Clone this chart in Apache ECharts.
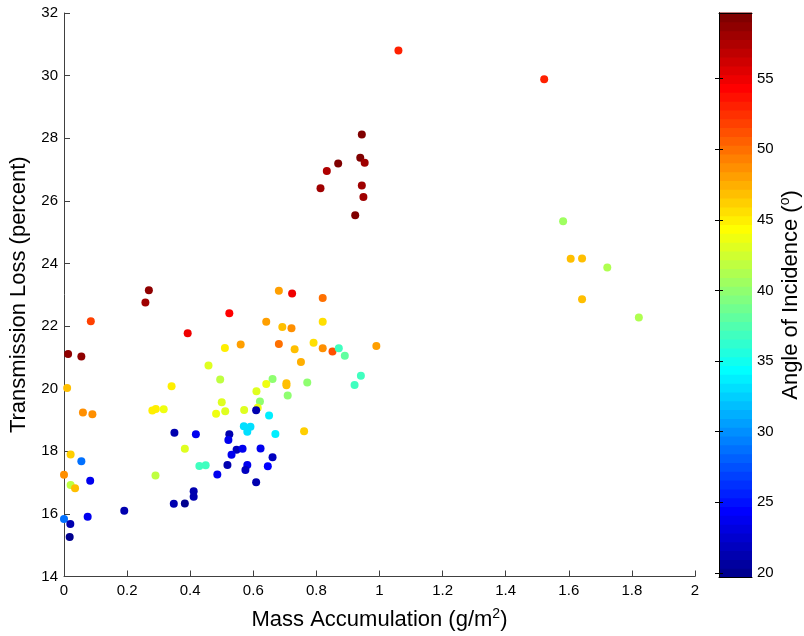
<!DOCTYPE html>
<html>
<head>
<meta charset="utf-8">
<script src="https://cdn.jsdelivr.net/npm/echarts@6/dist/echarts.min.js"></script>
<style>
  html, body { margin: 0; padding: 0; background: #fff; }
  #chart { width: 804px; height: 636px; }
</style>
</head>
<body>
<div id="chart"></div>
<script>
// Mass accumulation on the surface (g/m^2)
const massAccum = [
  0.258, 0.269, 0.085, 0.392, 0.013, 0.055, 0.458, 0.010, 0.341, 0.280,
  0.291, 0.316, 0.060, 0.090, 0.350, 0.418, 0.383, 0.021, 0.055, 0.429,
  0.449, 0.000, 0.021, 0.035, 0.083, 0.290, 0.411, 0.411, 0.348, 0.383,
  0.191, 0.000, 0.075, 0.020, 0.018,
  0.681, 0.723, 0.820, 0.524, 0.641, 0.692, 0.721, 0.820, 0.510, 0.560,
  0.681, 0.731, 0.791, 0.820, 0.851, 0.871, 0.890, 0.990, 0.751, 0.495,
  0.661, 0.641, 0.705, 0.705, 0.771, 0.941, 0.921, 0.610, 0.621, 0.709,
  0.500, 0.482, 0.511, 0.571, 0.614, 0.609, 0.650, 0.570, 0.591, 0.581,
  0.670, 0.761, 0.524, 0.521, 0.547, 0.566, 0.623, 0.531, 0.661, 0.518,
  0.581, 0.575, 0.646, 0.486, 0.609,
  0.944, 0.939, 0.953, 0.869, 0.833, 0.813, 0.944, 0.949, 0.923,
  1.522, 1.060, 1.582, 1.606, 1.642, 1.722, 1.642, 1.822
];

// Transmission loss (percent)
const transLoss = [
  22.75, 23.14, 22.15, 21.77, 21.11, 21.03, 20.74, 20.02, 20.08, 19.30,
  19.35, 19.34, 19.24, 19.18, 18.59, 18.54, 18.08, 17.90, 17.68, 17.53,
  17.55, 17.25, 16.92, 16.82, 17.06, 17.23, 16.72, 16.55, 16.32, 16.33,
  16.10, 15.84, 15.91, 15.68, 15.26,
  23.13, 23.04, 22.90, 22.41, 22.14, 21.97, 21.93, 22.14, 21.30, 21.41,
  21.43, 21.26, 21.47, 21.29, 21.19, 21.29, 21.05, 21.36, 20.85, 20.29,
  20.31, 20.15, 20.17, 20.11, 20.20, 20.41, 20.12, 19.92, 19.59, 19.78,
  19.57, 19.20, 19.28, 19.32, 19.39, 19.31, 19.14, 18.80, 18.78, 18.62,
  18.55, 18.64, 18.54, 18.36, 18.05, 18.08, 18.09, 17.89, 17.81, 17.56,
  17.56, 17.40, 17.52, 17.26, 17.01,
  28.12, 27.38, 27.22, 27.19, 26.95, 26.40, 26.49, 26.12, 25.54,
  29.88, 30.80, 25.35, 24.15, 24.16, 23.87, 22.86, 22.27
];

// Angle of incidence (degrees)
const incidence = [
  58.0, 58.5, 52.0, 55.0, 58.5, 58.5, 43.0, 47.0, 45.0, 45.0,
  45.0, 44.0, 49.0, 49.0, 21.0, 24.0, 43.0, 46.5, 28.5, 37.0,
  37.0, 49.0, 42.0, 47.0, 24.0, 42.0, 21.0, 21.0, 21.0, 19.7,
  21.0, 28.5, 24.0, 21.0, 20.0,
  48.0, 55.0, 50.0, 54.5, 48.0, 47.0, 49.0, 45.5, 45.0, 48.0,
  50.0, 47.0, 45.5, 49.0, 51.0, 37.0, 38.0, 48.0, 47.5, 42.0,
  40.0, 44.0, 47.0, 47.0, 40.0, 37.0, 37.0, 43.0, 40.0, 40.0,
  43.0, 44.0, 43.0, 43.0, 44.0, 21.0, 34.0, 33.0, 33.0, 33.0,
  34.0, 46.5, 21.0, 24.0, 22.0, 24.0, 24.0, 24.0, 22.0, 21.0,
  24.0, 22.0, 24.5, 24.0, 21.0,
  59.5, 59.5, 58.0, 59.5, 57.5, 58.0, 58.0, 58.0, 59.65,
  53.0, 53.0, 40.5, 47.0, 47.0, 41.0, 47.0, 41.0
];

// Colour bar tick values
const colorTicks = [20, 25, 30, 35, 40, 45, 50, 55];

// Colour scale limits
const cMin = Math.min(...incidence);
const cMax = Math.max(...incidence);

// 64-level "jet" colour map
function jetMap(m) {
  const n = Math.ceil(m / 4);
  const u = [];
  for (let i = 1; i <= n; i++) u.push(i / n);
  for (let i = 1; i < n; i++) u.push(1);
  for (let i = n; i >= 1; i--) u.push(i / n);
  const off = Math.ceil(n / 2) - (m % 4 === 1 ? 1 : 0);
  const J = Array.from({ length: m }, () => [0, 0, 0]);
  const g = u.map((_, k) => off + k + 1);
  const r = g.map(v => v + n).filter(v => v <= m);
  const gg = g.filter(v => v <= m);
  const b = g.map(v => v - n).filter(v => v >= 1);
  r.forEach((idx, k) => { J[idx - 1][0] = u[k]; });
  gg.forEach((idx, k) => { J[idx - 1][1] = u[k]; });
  b.forEach((idx, k) => { J[idx - 1][2] = u[u.length - b.length + k]; });
  return J.map(c => 'rgb(' + c.map(v => Math.round(v * 255)).join(',') + ')');
}
const jet = jetMap(64);

// Quantise each angle to its colour-map level, as a discrete colour map does
function levelColor(v) {
  let k = Math.floor((v - cMin) / (cMax - cMin) * jet.length);
  k = Math.max(0, Math.min(jet.length - 1, k));
  return jet[k];
}

const points = massAccum.map((m, i) => ({
  value: [m, transLoss[i], incidence[i]],
  itemStyle: { color: levelColor(incidence[i]) }
}));

const bandStep = (cMax - cMin) / jet.length;
const bands = jet.map((c, i) => [0.5, cMin + (i + 0.5) * bandStep, i]);

const FONT = 'Liberation Sans';
const lineCol = '#404040';
const supStyle = { fontFamily: FONT, fontSize: 14, verticalAlign: 'top', padding: [0, 0, 11, 0] };

const chart = echarts.init(document.getElementById('chart'), null, { renderer: 'canvas' });

chart.setOption({
  animation: false,
  backgroundColor: '#fff',
  textStyle: { fontFamily: FONT, color: '#000' },
  grid: [
    { left: 64, top: 13, width: 631, height: 565 },
    { left: 719, top: 13, width: 33, height: 564 }
  ],
  xAxis: [
    {
      gridIndex: 0, type: 'value', min: 0, max: 2, interval: 0.2,
      name: 'Mass Accumulation (g/m{sup|2})',
      nameLocation: 'middle', nameGap: 31,
      nameTextStyle: { fontFamily: FONT, fontSize: 22, color: '#000', rich: { sup: supStyle } },
      axisLine: { show: true, lineStyle: { color: lineCol, width: 1 } },
      axisTick: { show: true, inside: true, length: 6, lineStyle: { color: lineCol } },
      axisLabel: { fontFamily: FONT, fontSize: 15, color: '#000', margin: 7 },
      splitLine: { show: false }
    },
    {
      gridIndex: 1, type: 'value', min: 0, max: 1, position: 'bottom', z: 5,
      axisLine: { show: true, lineStyle: { color: '#000', width: 1 } },
      axisTick: { show: false }, axisLabel: { show: false }, splitLine: { show: false }
    },
    {
      gridIndex: 1, type: 'value', min: 0, max: 1, position: 'top', z: 5,
      axisLine: { show: true, lineStyle: { color: '#000', width: 1 } },
      axisTick: { show: false }, axisLabel: { show: false }, splitLine: { show: false }
    }
  ],
  yAxis: [
    {
      gridIndex: 0, type: 'value', min: 14, max: 32, interval: 2,
      name: 'Transmission Loss (percent)',
      nameLocation: 'middle', nameGap: 23, nameRotate: 90,
      nameTextStyle: { fontFamily: FONT, fontSize: 22, color: '#000' },
      axisLine: { show: true, lineStyle: { color: lineCol, width: 1 } },
      axisTick: { show: true, inside: true, length: 6, lineStyle: { color: lineCol } },
      axisLabel: { fontFamily: FONT, fontSize: 15, color: '#000', margin: 6 },
      splitLine: { show: false }
    },
    {
      gridIndex: 1, type: 'value', min: cMin, max: cMax, position: 'left', z: 5,
      axisLine: { show: true, lineStyle: { color: '#000', width: 1 } },
      axisTick: { show: true, inside: true, length: 4, customValues: colorTicks, lineStyle: { color: '#000' } },
      axisLabel: { show: false }, splitLine: { show: false }
    },
    {
      gridIndex: 1, type: 'value', min: cMin, max: cMax, position: 'right', z: 5,
      name: 'Angle of Incidence ({sup|o})',
      nameLocation: 'middle', nameGap: 26, nameRotate: 90,
      nameTextStyle: { fontFamily: FONT, fontSize: 22, color: '#000', rich: { sup: supStyle } },
      axisLine: { show: true, lineStyle: { color: '#000', width: 1 } },
      axisTick: { show: true, inside: true, length: 4, customValues: colorTicks, lineStyle: { color: '#000' } },
      axisLabel: { show: true, customValues: colorTicks, fontFamily: FONT, fontSize: 15, color: '#000', margin: 5 },
      splitLine: { show: false }
    }
  ],
  series: [
    {
      type: 'scatter',
      xAxisIndex: 0, yAxisIndex: 0,
      symbol: 'circle', symbolSize: 8,
      data: points,
      itemStyle: { opacity: 1 }
    },
    {
      type: 'custom',
      xAxisIndex: 1, yAxisIndex: 1,
      silent: true,
      data: bands,
      renderItem: function (params, api) {
        const i = api.value(2);
        const lo = cMin + i * bandStep;
        const hi = lo + bandStep;
        const p0 = api.coord([0, hi]);
        const p1 = api.coord([1, lo]);
        return {
          type: 'rect',
          shape: { x: p0[0], y: p0[1] - 0.5, width: p1[0] - p0[0], height: p1[1] - p0[1] + 1 },
          style: { fill: jet[i] }
        };
      }
    }
  ]
});
</script>
</body>
</html>
